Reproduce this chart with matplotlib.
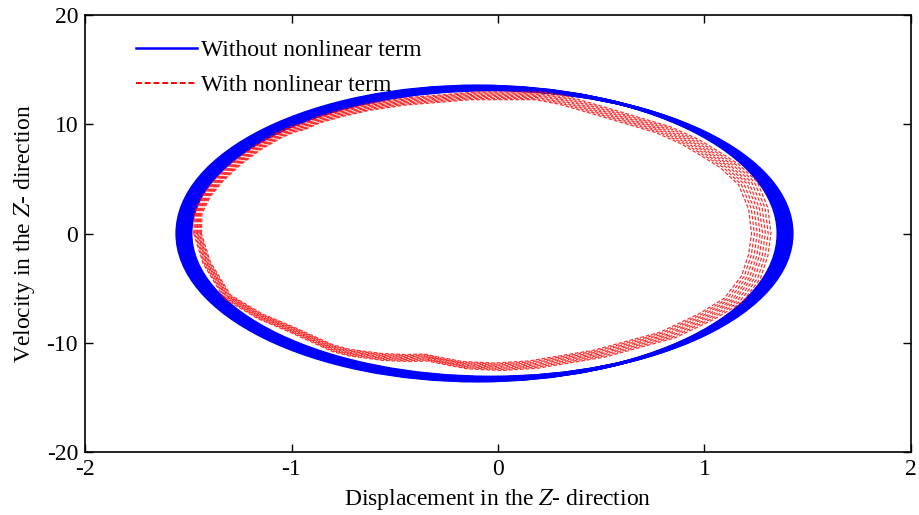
import numpy as np
import matplotlib
matplotlib.use('Agg')
from matplotlib import pyplot as plt
from matplotlib.patches import Ellipse

plt.rcParams['font.family'] = ['Liberation Serif', 'DejaVu Serif']
plt.rcParams['mathtext.fontset'] = 'stix'
plt.rcParams['axes.unicode_minus'] = False

# blue orbit: band of ellipses (centre x, half width, half height)
blue_cx = [-0.0995, -0.093, -0.087, -0.081, -0.075, -0.069, -0.063, -0.057, -0.051, -0.045, -0.039, -0.0315]
blue_a = [1.4555] * 12
blue_b = [13.50, 13.47, 13.44, 13.41, 13.38, 13.35, 13.31, 13.28, 13.25, 13.21, 13.18, 13.15]

# red orbit: centre line, clockwise from the left
red_x = [-1.455, -1.452, -1.41, -1.35, -1.26, -1.16, -1.06, -1.00, -0.94, -0.87,
         -0.76, -0.62, -0.44, -0.12, 0.20, 0.315, 0.48, 0.64, 0.80, 0.93,
         1.01, 1.12, 1.21, 1.26, 1.275, 1.26, 1.225, 1.14, 1.01, 0.82,
         0.49, 0.17, 0.0, -0.16, -0.26, -0.35, -0.44, -0.56, -0.72, -0.80,
         -0.94, -1.01, -1.15, -1.31, -1.41, -1.455]
red_y = [0.0, 1.9, 3.5, 4.9, 6.5, 7.9, 9.0, 9.5, 9.8, 10.4,
         11.0, 11.6, 12.1, 12.6, 12.6, 12.2, 11.3, 10.4, 9.5, 8.4,
         7.5, 6.2, 4.6, 2.3, 0.0, -2.0, -4.0, -6.1, -7.6, -9.3,
         -11.0, -12.0, -12.2, -12.05, -11.7, -11.35, -11.4, -11.3, -10.9, -10.5,
         -9.3, -8.7, -7.6, -5.8, -2.7, 0.0]
# successive loops drift slightly: shift, x scale, y scale
loop_dx = [-0.014, -0.010, -0.006, -0.002, 0.002, 0.006, 0.010, 0.014]
loop_sx = [0.976, 0.983, 0.990, 0.997, 1.003, 1.010, 1.017, 1.024]
loop_sy = [0.972, 0.980, 0.988, 0.996, 1.004, 1.012, 1.020, 1.028]

fig = plt.figure(figsize=(9.2, 5.15), dpi=100)
ax = fig.add_axes([85 / 920, 1 - 452 / 515, 826 / 920, 437 / 515])

for cx, a, b in zip(blue_cx, blue_a, blue_b):
    ax.add_patch(Ellipse((cx, 0), 2 * a, 2 * b, fill=False, ec='#0000ff', lw=2.2))
ax.plot([], [], color='#0000ff', lw=1.8, label='Without nonlinear term')

rx = np.array(red_x)
ry = np.array(red_y)
for i, (dx, sx, sy) in enumerate(zip(loop_dx, loop_sx, loop_sy)):
    ax.plot(-0.1 + (rx + 0.1) * sx + dx, ry * sy, color='#ff0000', lw=0.9,
            ls=(0, (3, 1.5)), alpha=0.8,
            label='With nonlinear term' if i == 0 else None)

ax.set_xlim(-2, 2)
ax.set_ylim(-20, 20)
ax.set_xticks([-2, -1, 0, 1, 2])
ax.set_yticks([-20, -10, 0, 10, 20])
ax.tick_params(direction='in', length=6, width=1, labelsize=17, top=True, right=True, pad=5)
for s in ax.spines.values():
    s.set_linewidth(1.2)
ax.set_xlabel('Displacement in the $Z$- direction', fontsize=17, labelpad=5)
ax.set_ylabel('Velocity in the $Z$- direction', fontsize=17, labelpad=7)

leg = ax.legend(loc='upper left', bbox_to_anchor=(0.05, 0.965), frameon=False,
                fontsize=17, handlelength=2.6, handletextpad=0.15, labelspacing=0.55,
                borderaxespad=0)
red_handle = leg.get_lines()[1]
red_handle.set_alpha(1)
red_handle.set_linewidth(1.4)

fig.savefig('out.png', dpi=100)
